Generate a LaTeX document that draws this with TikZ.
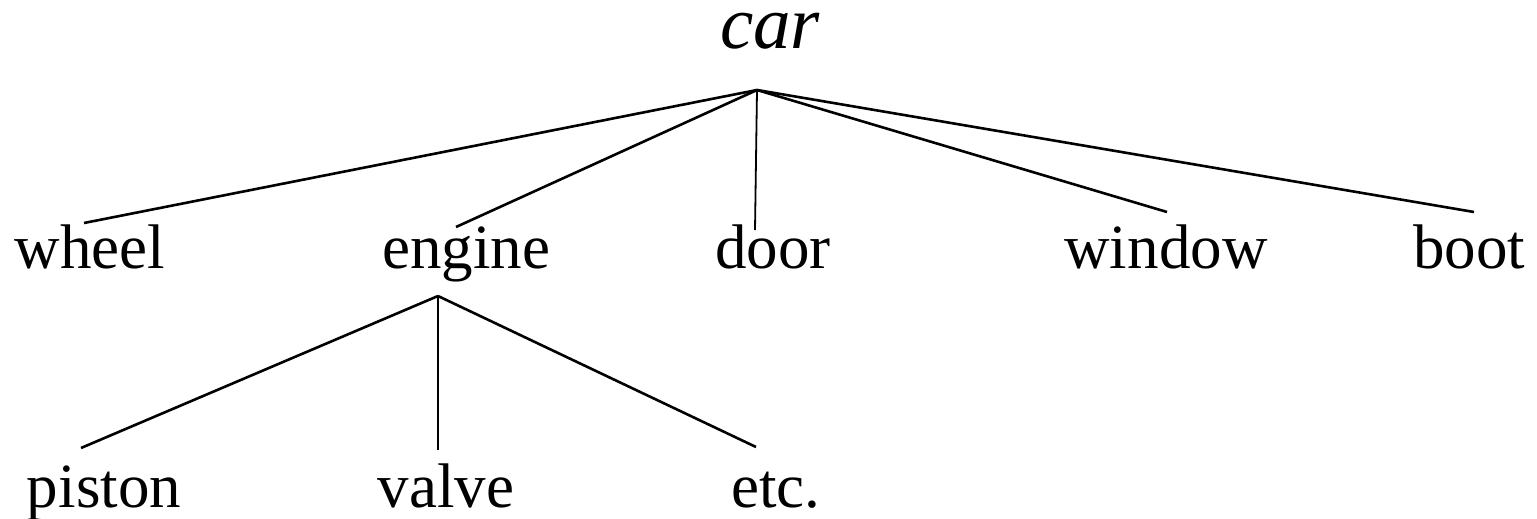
\documentclass[tikz,border=0pt]{standalone}
\usepackage{fontspec}
\setmainfont{Liberation Serif}
\begin{document}
\begin{tikzpicture}[x=1pt,y=-1pt,
  lbl/.style={anchor=base,inner sep=0pt,font=\fontsize{63}{70}\selectfont},
  rootlbl/.style={anchor=base,inner sep=0pt,text height=36pt,text depth=2pt,font=\fontsize{75}{80}\selectfont\itshape},
  edge/.style={line width=2.6pt,line cap=butt},
  vedge/.style={line width=1.8pt}]
\useasboundingbox (0,0) rectangle (1537,519);
% labels
\node[rootlbl] (car) at (770,49) {car};
\node[lbl] (wheel) at (90,268) {wheel};
\node[lbl] (engine) at (466,268) {engine};
\node[lbl] (door) at (773,268) {door};
\node[lbl] (window) at (1166,268) {window};
\node[lbl] (boot) at (1469,268) {boot};
\node[lbl] (piston) at (104,507) {piston};
\node[lbl] (valve) at (446,507) {valve};
\node[lbl] (etc) at (776,507) {etc.};
% connector end points
\coordinate (carA) at (757,90);
\coordinate (wheelT) at (84,223);
\coordinate (engineT) at (456,227);
\coordinate (doorT) at (755,230);
\coordinate (windowT) at (1167,212);
\coordinate (bootT) at (1474,212);
\coordinate (engineA) at (438,296);
\coordinate (pistonT) at (81,448);
\coordinate (valveT) at (438,450);
\coordinate (etcT) at (756,447);
% connectors
\draw[edge] (carA) -- (wheelT);
\draw[edge] (carA) -- (engineT);
\draw[vedge] (carA) -- (doorT);
\draw[edge] (carA) -- (windowT);
\draw[edge] (carA) -- (bootT);
\draw[edge] (engineA) -- (pistonT);
\draw[vedge] (engineA) -- (valveT);
\draw[edge] (engineA) -- (etcT);
\end{tikzpicture}
\end{document}
